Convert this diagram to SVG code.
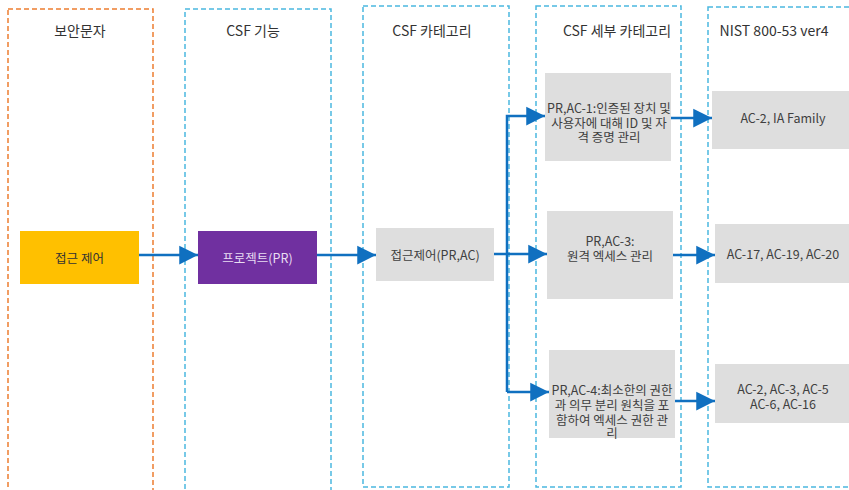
<svg xmlns="http://www.w3.org/2000/svg" width="849" height="490" viewBox="0 0 849 490">
<defs>
<style>
text{font-family:"Noto Sans CJK KR","Noto Sans",sans-serif;text-anchor:middle;dominant-baseline:central;fill:#404040}
.h{font-size:14px;fill:#333}
.t{font-size:12.5px}
.col{fill:none;stroke-width:1.5;stroke-dasharray:5,3}
.o{stroke:#ED7D31}
.b{stroke:#4BB8E0}
.g{fill:#DEDEDE}
.c{fill:none;stroke:#1070C0;stroke-width:2.5}
</style>
<marker id="ah" viewBox="0 0 10 10" refX="10" refY="5" markerWidth="7.5" markerHeight="8.4" markerUnits="strokeWidth" orient="auto"><path d="M0,0 L10,5 L0,10 Z" fill="#1070C0"/></marker>
</defs>
<rect width="849" height="490" fill="#fff"/>
<g id="columns">
<rect class="col o" x="8" y="9" width="145" height="490"/>
<rect class="col b" x="185" y="9" width="146" height="490"/>
<rect class="col b" x="363" y="6" width="146" height="481"/>
<rect class="col b" x="536" y="6" width="145" height="481"/>
<rect class="col b" x="708" y="7" width="150" height="480"/>
<text class="h" x="80" y="30">보안문자</text>
<text class="h" x="253" y="30">CSF 기능</text>
<text class="h" x="432" y="30">CSF 카테고리</text>
<text class="h" x="617" y="30">CSF 세부 카테고리</text>
<text class="h" x="774" y="30">NIST 800-53 ver4</text>
</g>
<g id="connectors">
<path class="c" d="M139,255 H198" marker-end="url(#ah)"/>
<path class="c" d="M317,255 H376" marker-end="url(#ah)"/>
<path class="c" d="M494,254 H547" marker-end="url(#ah)"/>
<path class="c" d="M507,392 V116 H545" marker-end="url(#ah)"/>
<path class="c" d="M507,392 H549" marker-end="url(#ah)"/>
<path class="c" d="M671,118 H712" marker-end="url(#ah)"/>
<path class="c" d="M673,255 H715" marker-end="url(#ah)"/>
<path class="c" d="M675,401 H715" marker-end="url(#ah)"/>
</g>
<g id="n1"><rect x="20" y="231" width="119" height="53" fill="#FFC000"/><text class="t" x="79.5" y="257" style="fill:#333">접근 제어</text></g>
<g id="n2"><rect x="198" y="231" width="119" height="53" fill="#7030A0"/><text class="t" x="257.5" y="257" style="fill:#E8DDF2">프로젝트(PR)</text></g>
<g id="n3"><rect class="g" x="376" y="228" width="118" height="53"/><text class="t" x="435" y="254">접근제어(PR,AC)</text></g>
<g id="n4"><rect class="g" x="545" y="73" width="126" height="88"/><text class="t" x="609" y="107">PR,AC-1:인증된 장치 및<tspan x="609" dy="14.5">사용자에 대해 ID 및 자</tspan><tspan x="609" dy="14.5">격 증명 관리</tspan></text></g>
<g id="n5"><rect class="g" x="547" y="211" width="126" height="88"/><text class="t" x="610" y="240">PR,AC-3:<tspan x="610" dy="15">원격 엑세스 관리</tspan></text></g>
<g id="n6"><rect class="g" x="549" y="350" width="126" height="88"/><text class="t" x="612" y="389">PR,AC-4:최소한의 권한<tspan x="612" dy="15">과 의무 분리 원칙을 포</tspan><tspan x="612" dy="15">함하여 엑세스 권한 관</tspan><tspan x="612" dy="13">리</tspan></text></g>
<g id="n7"><rect class="g" x="712" y="91" width="140" height="58"/><text class="t" x="783" y="117">AC-2, IA Family</text></g>
<g id="n8"><rect class="g" x="715" y="224" width="140" height="59"/><text class="t" x="783" y="253">AC-17, AC-19, AC-20</text></g>
<g id="n9"><rect class="g" x="715" y="364" width="140" height="59"/><text class="t" x="783" y="388">AC-2, AC-3, AC-5<tspan x="783" dy="14.5">AC-6, AC-16</tspan></text></g>
</svg>
